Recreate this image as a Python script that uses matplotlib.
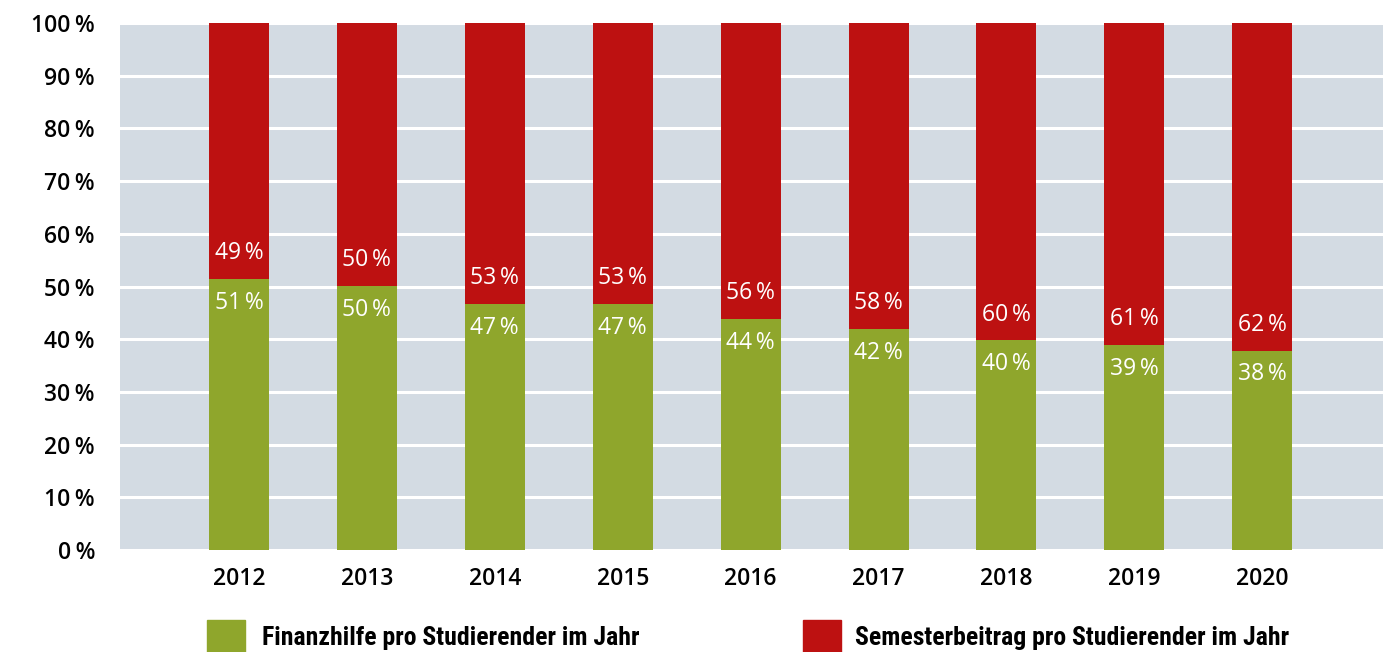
import matplotlib.pyplot as plt
from matplotlib.patches import Rectangle

years = ['2012', '2013', '2014', '2015', '2016', '2017', '2018', '2019', '2020']
finanzhilfe = [51.4, 50.1, 46.7, 46.7, 43.8, 41.9, 39.8, 38.9, 37.8]
semesterbeitrag = [100 - v for v in finanzhilfe]
legend_labels = ['Finanzhilfe pro Studierender im Jahr',
                 'Semesterbeitrag pro Studierender im Jahr']

GREEN = '#8fa62c'
RED = '#bd1111'
BG = '#d3dbe3'

plt.rcParams['font.family'] = ['Open Sans', 'DejaVu Sans']

fig = plt.figure(figsize=(13.83, 6.52), dpi=100)
ax = fig.add_axes([120 / 1383, 1 - 550 / 652, 1 - 120 / 1383, (550 - 23) / 652])
ax.set_facecolor(BG)

x = list(range(len(years)))
ax.bar(x, finanzhilfe, width=0.469, color=GREEN, zorder=3)
ax.bar(x, semesterbeitrag, bottom=finanzhilfe, width=0.469, color=RED, zorder=3)

# value labels around the boundary
for i, (g, r) in enumerate(zip(finanzhilfe, semesterbeitrag)):
	ax.annotate('%d\u2009%%' % round(g), (i, g), xytext=(0, -17), textcoords='offset points',
		ha='center', va='center', color='white', fontsize=16.5, zorder=4)
	ax.annotate('%d\u2009%%' % round(r), (i, g), xytext=(0, 18.5), textcoords='offset points',
		ha='center', va='center', color='white', fontsize=16.5, zorder=4)

ax.set_xlim(-0.930, 8.944)
ax.set_ylim(0, 100)
ax.set_yticks(range(0, 101, 10))
ax.set_yticklabels(['%d\u2009%%' % v for v in range(0, 101, 10)], fontsize=16.5, fontweight='semibold')
ax.set_xticks(x)
ax.set_xticklabels(years, fontsize=16.5, fontweight='semibold')
ax.tick_params(length=0, pad=12)
ax.tick_params(axis='y', pad=18)
ax.grid(axis='y', color='white', linewidth=2.2, zorder=1)
for s in ax.spines.values():
	s.set_visible(False)

# legend at the bottom (squares run off the edge)
W, H = 1383, 652
for (lx, tx, col, lab) in [(207, 262, GREEN, legend_labels[0]), (803, 855, RED, legend_labels[1])]:
	fig.add_artist(Rectangle((lx / W, 1 - 658 / H), 38 / W, 38 / H,
		transform=fig.transFigure, color=col))
	fig.text(tx / W, 1 - 638 / H, lab, ha='left', va='center', fontsize=18.5,
		fontweight='bold', family=['Roboto Condensed', 'Liberation Sans Narrow', 'Roboto', 'DejaVu Sans'])

fig.savefig('out.png', dpi=100)
